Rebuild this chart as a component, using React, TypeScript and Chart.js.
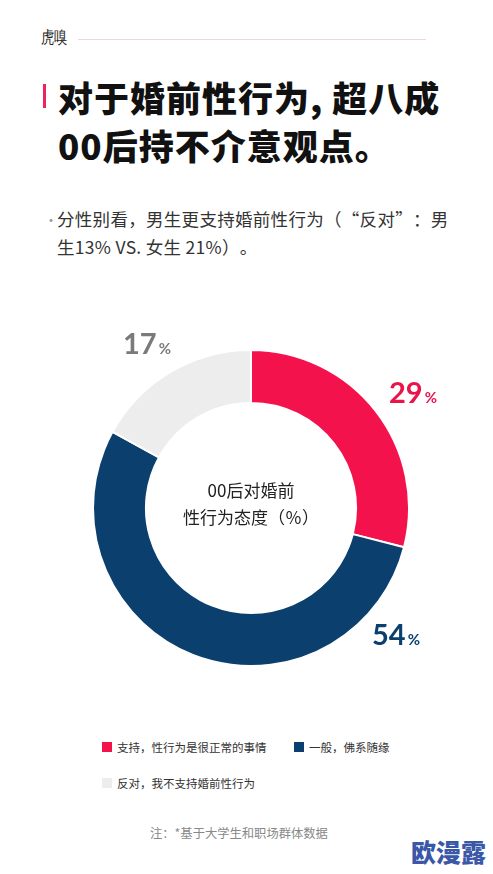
import React, { useEffect, useRef } from "react";
import { Chart, registerables } from "chart.js";

Chart.register(...registerables);

const categories = ["支持，性行为是很正常的事情", "一般，佛系随缘", "反对，我不支持婚前性行为"];
const values = [29, 54, 17];
const colors = ["#F3124C", "#0B3F6E", "#EDEDED"];
const labelColors = ["#E8144A", "#0B3F6E", "#7A7A7A"];
const valueLabelPos = [
  { left: 389, top: 374 },
  { left: 372, top: 616 },
  { left: 123, top: 325 },
];

const CJK = '"Noto Sans CJK SC", "Noto Sans", sans-serif';
const noTrim: any = { textSpacingTrim: "space-all" };

export default function App() {
  const ref = useRef<HTMLCanvasElement | null>(null);
  useEffect(() => {
    if (!ref.current) return;
    const chart = new Chart(ref.current, {
      type: "doughnut",
      data: {
        labels: categories,
        datasets: [
          {
            data: values,
            backgroundColor: colors,
            borderColor: "#ffffff",
            borderWidth: 2,
            hoverOffset: 0,
          },
        ],
      },
      options: {
        responsive: false,
        animation: false,
        cutout: "66.5%",
        layout: { padding: 0 },
        plugins: { legend: { display: false }, tooltip: { enabled: false } },
      },
    });
    return () => chart.destroy();
  }, []);

  return (
    <div style={{ position: "absolute", left: 0, top: 0, width: 493, height: 874, background: "#fff", overflow: "hidden", fontFamily: CJK, ...noTrim }}>
      {/* header */}
      <div style={{ position: "absolute", left: 41, top: 26, fontSize: 17, lineHeight: "24px", color: "#222", fontFamily: "serif", transform: "scaleX(0.78)", transformOrigin: "left" }}>虎嗅</div>
      <div style={{ position: "absolute", left: 78, top: 39, width: 348, height: 1, background: "#F2D6DC" }} />
      {/* title */}
      <div style={{ position: "absolute", left: 43, top: 84, width: 3, height: 24, background: "#F0245A" }} />
      <div style={{ position: "absolute", left: 58, top: 73, fontSize: 35, lineHeight: "48px", fontWeight: 900, color: "#111", whiteSpace: "pre", letterSpacing: 1 }}>
        {"对于婚前性行为, 超八成\n00后持不介意观点。"}
      </div>
      {/* subtitle */}
      <div style={{ position: "absolute", left: 44, top: 205, fontSize: 14, lineHeight: "28px", color: "#999" }}>·</div>
      <div style={{ position: "absolute", left: 57, top: 205, fontSize: 17.5, lineHeight: "28px", color: "#333", whiteSpace: "pre", letterSpacing: 0.3 }}>
        {"分性别看，男生更支持婚前性行为（“反对”：男\n生13% VS. 女生 21%）。"}
      </div>
      {/* chart */}
      <canvas ref={ref} width={318} height={318} style={{ position: "absolute", left: 92, top: 349, width: 318, height: 318 }} />
      <div style={{ position: "absolute", left: 151, top: 476, width: 200, textAlign: "center", fontSize: 17, lineHeight: "27px", color: "#222" }}>
        00后对婚前
        <br />
        性行为态度（％）
      </div>
      {values.map((v, i) => (
        <div key={i} style={{ position: "absolute", left: valueLabelPos[i].left, top: valueLabelPos[i].top, color: labelColors[i], fontFamily: "Lato, sans-serif", fontWeight: 700, whiteSpace: "nowrap" }}>
          <span style={{ fontSize: 29 }}>{v}</span>
          <span style={{ fontSize: 15, marginLeft: 2 }}>%</span>
        </div>
      ))}
      {/* legend */}
      {categories.map((c, i) => {
        const left = i === 1 ? 294 : 102;
        const top = i === 2 ? 776 : 740;
        return (
          <div key={c} style={{ position: "absolute", left, top, height: 14, display: "flex", alignItems: "center", whiteSpace: "nowrap" }}>
            <div style={{ width: 10, height: 10, background: colors[i], marginRight: 5 }} />
            <span style={{ fontSize: 11.5, color: "#333" }}>{c}</span>
          </div>
        );
      })}
      {/* footnote */}
      <div style={{ position: "absolute", left: 150, top: 824, fontSize: 12.3, lineHeight: "18px", color: "#888" }}>注：*基于大学生和职场群体数据</div>
      <div style={{ position: "absolute", left: 411, top: 836, fontSize: 25, lineHeight: "30px", fontWeight: 900, color: "#3A57A8" }}>欧漫露</div>
    </div>
  );
}
